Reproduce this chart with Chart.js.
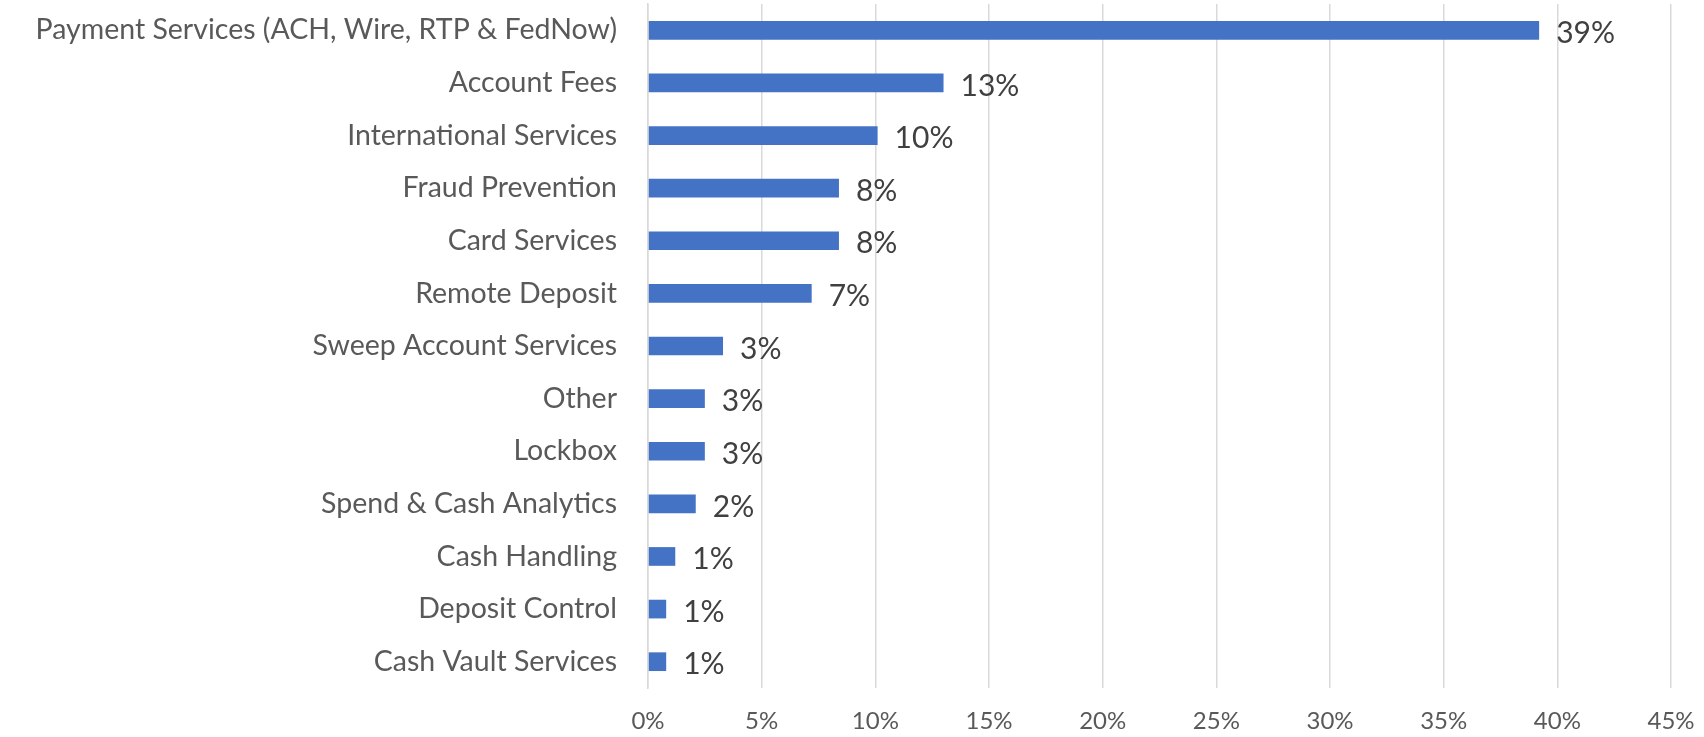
<!DOCTYPE html>
<html>
<head>
<meta charset="utf-8">
<script src="https://cdn.jsdelivr.net/npm/chart.js@4/dist/chart.umd.min.js"></script>
<style>
  html, body { margin: 0; padding: 0; background: #fff; }
  #wrap { width: 1704px; height: 737px; position: relative; }
</style>
</head>
<body>
<div id="wrap"><canvas id="chart"></canvas></div>
<script>
const categories = [
  "Payment Services (ACH, Wire, RTP & FedNow)",
  "Account Fees",
  "International Services",
  "Fraud Prevention",
  "Card Services",
  "Remote Deposit",
  "Sweep Account Services",
  "Other",
  "Lockbox",
  "Spend & Cash Analytics",
  "Cash Handling",
  "Deposit Control",
  "Cash Vault Services"
];
const shares = [39.2, 13.0, 10.1, 8.4, 8.4, 7.2, 3.3, 2.5, 2.5, 2.1, 1.2, 0.8, 0.8];
const valueLabels = ["39%", "13%", "10%", "8%", "8%", "7%", "3%", "3%", "3%", "2%", "1%", "1%", "1%"];

const FONT = "Lato, 'Open Sans', sans-serif";

// value text at the end of each bar
const barLabels = {
  id: "barLabels",
  afterDatasetsDraw(chart) {
    const ctx = chart.ctx;
    const meta = chart.getDatasetMeta(0);
    ctx.save();
    ctx.font = "30px " + FONT;
    ctx.fillStyle = "#404040";
    ctx.textAlign = "left";
    ctx.textBaseline = "middle";
    meta.data.forEach((bar, i) => {
      ctx.fillText(valueLabels[i], bar.x + 17, bar.y + 3);
    });
    ctx.restore();
  }
};

new Chart(document.getElementById("chart"), {
  type: "bar",
  data: {
    labels: categories,
    datasets: [{
      data: shares,
      backgroundColor: "#4472C4",
      barPercentage: 0.48,
      categoryPercentage: 0.74
    }]
  },
  options: {
    indexAxis: "y",
    responsive: true,
    maintainAspectRatio: false,
    animation: false,
    layout: { padding: { top: 4, right: 33, left: 0, bottom: 0 } },
    plugins: { legend: { display: false }, tooltip: { enabled: false } },
    scales: {
      x: {
        min: 0,
        max: 45,
        ticks: {
          stepSize: 5,
          padding: 19,
          color: "#595959",
          font: { family: FONT, size: 24 },
          callback: (v) => v + "%"
        },
        grid: { color: "#d9d9d9", lineWidth: 1.5, drawTicks: false },
        border: { display: false },
        afterFit: (s) => {
          s.height = 49;
          s.paddingLeft = 0;
          s.paddingRight = 0;
        }
      },
      y: {
        ticks: {
          padding: 31,
          color: "#595959",
          font: { family: FONT, size: 28.5 },
          autoSkip: false
        },
        grid: { display: false, drawTicks: false },
        border: { display: true, color: "#d9d9d9", width: 1.5 },
        afterFit: (s) => {
          s.width = 648;
          s.paddingTop = 0;
          s.paddingBottom = 0;
        }
      }
    }
  },
  plugins: [barLabels]
});
</script>
</body>
</html>
